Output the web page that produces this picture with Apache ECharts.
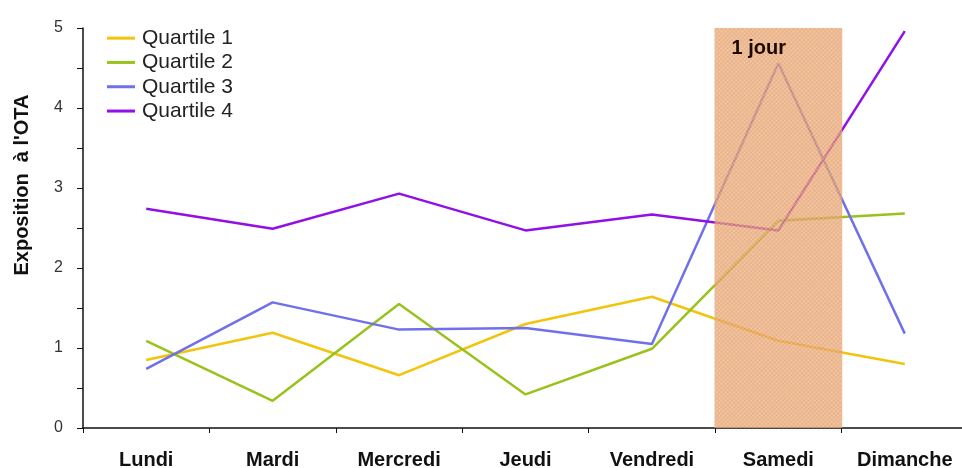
<!DOCTYPE html>
<html><head><meta charset="utf-8">
<script src="https://cdn.jsdelivr.net/npm/echarts@6/dist/echarts.min.js"></script>
<style>html,body{margin:0;padding:0;background:#fff}#c{width:962px;height:468px}</style>
</head><body><div id="c"></div>
<script>
const categories = ['Lundi','Mardi','Mercredi','Jeudi','Vendredi','Samedi','Dimanche'];
const seriesNames = ['Quartile 1','Quartile 2','Quartile 3','Quartile 4'];
const quartile1 = [0.85, 1.19, 0.66, 1.30, 1.64, 1.09, 0.80];
const quartile2 = [1.09, 0.34, 1.55, 0.42, 0.99, 2.59, 2.68];
const quartile3 = [0.74, 1.57, 1.23, 1.25, 1.05, 4.56, 1.18];
const quartile4 = [2.74, 2.49, 2.93, 2.47, 2.67, 2.47, 4.96];
const highlight = [null, null, null, null, null, 5, null];
const highlightLabel = '1 jour';
const yAxisName = "Exposition  à l'OTA";
const colors = ['#f2c40c', '#99c21c', '#7070ea', '#9010e6'];

const chart = echarts.init(document.getElementById('c'), null, {renderer:'canvas'});
const values = [quartile1, quartile2, quartile3, quartile4];
const lineSeries = values.map((v, i) => ({
  name: seriesNames[i], type: 'line', data: v, showSymbol: false, symbol: 'none',
  lineStyle: {width: 2.5, color: colors[i]}, itemStyle: {color: colors[i]}, z: 2
}));
chart.setOption({
  animation: false,
  backgroundColor: '#fff',
  textStyle: {fontFamily: 'Liberation Sans, Arial, sans-serif'},
  grid: {left: 83, top: 28, width: 885, height: 400, containLabel: false, outerBoundsMode: 'none'},
  legend: {
    data: seriesNames, orient: 'vertical', left: 102, top: 21, itemGap: 0,
    itemWidth: 28, itemHeight: 3, icon: 'path://M0,0L28,0L28,3L0,3Z',
    textStyle: {fontSize: 21, color: '#222', padding: [0,0,0,2], lineHeight: 24.3}
  },
  xAxis: {
    type: 'category', data: categories, boundaryGap: true,
    axisLine: {lineStyle: {color: '#111', width: 1.5}},
    axisTick: {show: true, alignWithLabel: false, length: 5, lineStyle: {color: '#111'}},
    axisLabel: {color: '#111', fontWeight: 'bold', fontSize: 20, margin: 22}
  },
  yAxis: {
    type: 'value', min: 0, max: 5, interval: 0.5,
    name: yAxisName, nameLocation: 'middle', nameGap: 51, nameRotate: 90,
    nameTextStyle: {fontWeight: 'bold', fontSize: 20, color: '#111', padding: [0, 0, 0, 86]},
    axisLine: {show: true, lineStyle: {color: '#111', width: 1.5}},
    axisTick: {show: true, length: 6, lineStyle: {color: '#111'}},
    axisLabel: {color: '#333', fontSize: 16, margin: 20,
      formatter: v => (Math.abs(v - Math.round(v)) < 1e-9 ? String(Math.round(v)) : '')},
    splitLine: {show: false}
  },
  series: lineSeries.concat([{
    name: 'highlight', type: 'bar', data: highlight, barWidth: '101%', barGap: '0%',
    itemStyle: {color: 'rgba(226,146,84,0.72)',
      decal: {symbol: 'circle', symbolSize: 0.6, color: 'rgba(255,255,255,0.45)', dashArrayX: [3, 0], dashArrayY: [3, 0], rotation: 0.785}},
    label: {show: true, position: 'insideTopLeft', formatter: highlightLabel, offset: [12, 5],
      fontWeight: 'bold', fontSize: 20, color: '#1a0a00'},
    z: 5, silent: true
  }])
});
</script></body></html>
